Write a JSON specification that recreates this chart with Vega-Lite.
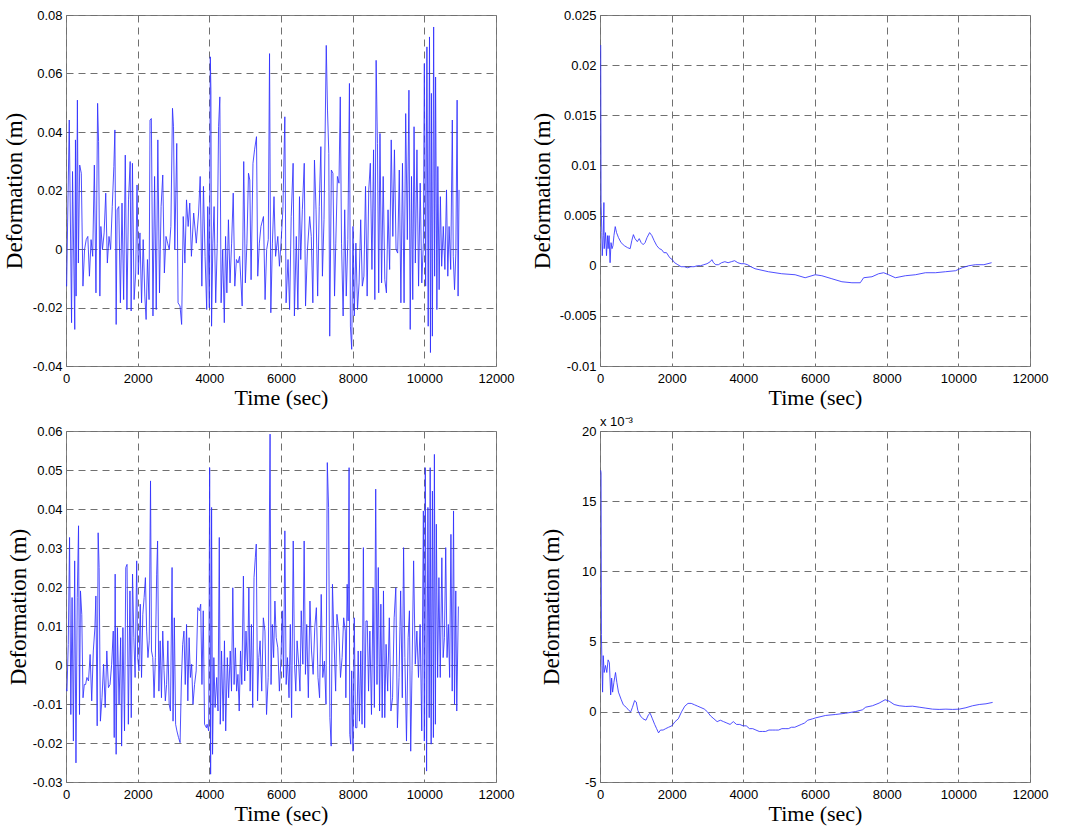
{
"$schema": "https://vega.github.io/schema/vega-lite/v6.json",
"background": "white",
"padding": {"left": 2, "top": 8, "right": 5, "bottom": 5},
"columns": 2,
"spacing": {"row": 65, "column": 104},
"bounds": "flush",
"config": {
 "view": {"stroke": "#808080", "strokeWidth": 1},
 "axis": {"domain": false, "ticks": false, "grid": true, "gridColor": "#707070", "gridDash": [7,5], "gridWidth": 1, "labelFont": "Liberation Sans", "labelFontSize": 13, "labelColor": "#000", "titleFont": "Liberation Serif", "titleFontWeight": "normal", "titleColor": "#000"},
 "axisX": {"labelPadding": 6, "titleFontSize": 22, "titlePadding": 2, "labelFlush": false},
 "axisY": {"labelPadding": 4, "titleFontSize": 23, "labelFlush": false},
 "line": {"color": "#3030ff", "strokeWidth": 1, "opacity": 0.85}
},
"datasets": {
"a": [{"t":0,"v":-0.012},{"t":18,"v":-0.0127},{"t":45,"v":0.0089},{"t":91,"v":0.0441},{"t":155,"v":-0.0252},{"t":182,"v":0.0265},{"t":245,"v":-0.0275},{"t":264,"v":0.0373},{"t":282,"v":-0.0161},{"t":318,"v":0.0509},{"t":345,"v":-0.0048},{"t":382,"v":0.0287},{"t":427,"v":0.0259},{"t":473,"v":-0.0127},{"t":518,"v":-0.0002},{"t":564,"v":0.0032},{"t":609,"v":0.0043},{"t":654,"v":-0.0093},{"t":700,"v":0.0032},{"t":745,"v":-0.0025},{"t":791,"v":0.0287},{"t":836,"v":-0.015},{"t":882,"v":0.0498},{"t":909,"v":0.0367},{"t":945,"v":-0.0161},{"t":973,"v":0.0077},{"t":1018,"v":-0.0002},{"t":1064,"v":0.0055},{"t":1109,"v":0.0191},{"t":1154,"v":-0.0048},{"t":1200,"v":0.0043},{"t":1245,"v":-0.0002},{"t":1291,"v":0.0145},{"t":1336,"v":0.0282},{"t":1364,"v":0.0407},{"t":1400,"v":-0.0258},{"t":1427,"v":0.0134},{"t":1473,"v":0.0145},{"t":1518,"v":-0.0184},{"t":1563,"v":0.0157},{"t":1609,"v":-0.0173},{"t":1654,"v":0.0321},{"t":1700,"v":-0.0207},{"t":1745,"v":0.0168},{"t":1791,"v":0.0299},{"t":1818,"v":-0.0212},{"t":1854,"v":0.0293},{"t":1900,"v":-0.0173},{"t":1945,"v":-0.0082},{"t":1982,"v":0.0219},{"t":2018,"v":-0.0087},{"t":2063,"v":0.0055},{"t":2109,"v":-0.0184},{"t":2154,"v":0.0032},{"t":2200,"v":-0.0161},{"t":2236,"v":-0.0241},{"t":2273,"v":-0.0036},{"t":2318,"v":-0.0173},{"t":2345,"v":0.0441},{"t":2382,"v":0.0446},{"t":2427,"v":-0.0229},{"t":2472,"v":0.0248},{"t":2518,"v":-0.0207},{"t":2563,"v":0.0373},{"t":2609,"v":-0.015},{"t":2654,"v":0.0145},{"t":2700,"v":0.0253},{"t":2745,"v":-0.0082},{"t":2791,"v":0.0043},{"t":2836,"v":0.002},{"t":2882,"v":-0.0002},{"t":2927,"v":0.0077},{"t":2972,"v":0.0481},{"t":3000,"v":0.0418},{"t":3036,"v":-0.0002},{"t":3091,"v":0.0361},{"t":3127,"v":-0.0184},{"t":3182,"v":-0.0195},{"t":3227,"v":-0.0258},{"t":3272,"v":0.0111},{"t":3318,"v":-0.0048},{"t":3363,"v":0.0168},{"t":3409,"v":0.0077},{"t":3454,"v":0.0157},{"t":3500,"v":-0.0025},{"t":3563,"v":0.0123},{"t":3636,"v":0.002},{"t":3700,"v":0.0123},{"t":3745,"v":0.0248},{"t":3791,"v":-0.0127},{"t":3836,"v":0.0214},{"t":3881,"v":-0.0025},{"t":3927,"v":-0.0207},{"t":3956,"v":0.0145},{"t":4000,"v":-0.0201},{"t":4027,"v":0.0657},{"t":4044,"v":0.0543},{"t":4062,"v":-0.0264},{"t":4098,"v":0.002},{"t":4133,"v":0.0145},{"t":4178,"v":-0.0184},{"t":4222,"v":0.002},{"t":4258,"v":0.0418},{"t":4293,"v":0.052},{"t":4329,"v":-0.0184},{"t":4373,"v":-0.0002},{"t":4418,"v":-0.0252},{"t":4453,"v":0.0043},{"t":4489,"v":-0.015},{"t":4533,"v":0.01},{"t":4578,"v":-0.0116},{"t":4622,"v":0.002},{"t":4667,"v":0.0191},{"t":4711,"v":-0.0127},{"t":4756,"v":-0.0036},{"t":4800,"v":-0.0048},{"t":4845,"v":-0.0025},{"t":4916,"v":-0.0195},{"t":4960,"v":0.0299},{"t":5005,"v":-0.0116},{"t":5049,"v":0.002},{"t":5093,"v":0.0259},{"t":5129,"v":0.0236},{"t":5165,"v":-0.0105},{"t":5218,"v":0.0293},{"t":5262,"v":0.0339},{"t":5316,"v":0.0384},{"t":5351,"v":-0.0093},{"t":5396,"v":0.002},{"t":5440,"v":0.0077},{"t":5511,"v":0.0111},{"t":5556,"v":-0.0173},{"t":5600,"v":-0.0002},{"t":5645,"v":0.0032},{"t":5680,"v":0.0668},{"t":5716,"v":-0.0218},{"t":5760,"v":0.002},{"t":5805,"v":0.0179},{"t":5849,"v":-0.0025},{"t":5911,"v":0.0043},{"t":5956,"v":-0.0059},{"t":6000,"v":0.002},{"t":6053,"v":0.0134},{"t":6107,"v":0.0452},{"t":6142,"v":-0.0184},{"t":6196,"v":-0.0036},{"t":6240,"v":-0.0207},{"t":6285,"v":0.0111},{"t":6338,"v":0.0293},{"t":6374,"v":-0.0229},{"t":6427,"v":0.0043},{"t":6471,"v":-0.0207},{"t":6516,"v":0.0179},{"t":6551,"v":-0.0036},{"t":6596,"v":0.0134},{"t":6649,"v":0.0293},{"t":6685,"v":-0.0195},{"t":6738,"v":-0.0002},{"t":6800,"v":0.0111},{"t":6845,"v":0.0043},{"t":6889,"v":-0.0184},{"t":6934,"v":0.0304},{"t":6978,"v":0.0134},{"t":7023,"v":-0.0161},{"t":7067,"v":0.0145},{"t":7112,"v":0.035},{"t":7156,"v":-0.0093},{"t":7200,"v":0.01},{"t":7263,"v":0.0696},{"t":7298,"v":0.0475},{"t":7334,"v":0.0327},{"t":7360,"v":-0.0298},{"t":7405,"v":0.027},{"t":7449,"v":0.0259},{"t":7494,"v":-0.0161},{"t":7529,"v":0.002},{"t":7574,"v":0.0248},{"t":7618,"v":0.0225},{"t":7654,"v":0.052},{"t":7689,"v":0.002},{"t":7734,"v":-0.0229},{"t":7778,"v":0.0134},{"t":7821,"v":-0.0161},{"t":7865,"v":0.0032},{"t":7910,"v":0.0566},{"t":7937,"v":-0.0264},{"t":7973,"v":-0.0343},{"t":8009,"v":0.0077},{"t":8045,"v":-0.0229},{"t":8090,"v":0.002},{"t":8135,"v":-0.0207},{"t":8179,"v":-0.0116},{"t":8224,"v":0.01},{"t":8269,"v":-0.0127},{"t":8314,"v":-0.0093},{"t":8359,"v":0.0214},{"t":8404,"v":-0.0161},{"t":8449,"v":0.0202},{"t":8493,"v":0.0293},{"t":8538,"v":-0.007},{"t":8583,"v":0.0339},{"t":8619,"v":-0.0173},{"t":8655,"v":0.0645},{"t":8691,"v":0.0361},{"t":8727,"v":-0.015},{"t":8762,"v":0.0395},{"t":8807,"v":-0.0116},{"t":8852,"v":0.0248},{"t":8897,"v":-0.0105},{"t":8942,"v":-0.015},{"t":8987,"v":0.0134},{"t":9032,"v":-0.007},{"t":9076,"v":0.0373},{"t":9121,"v":0.0043},{"t":9166,"v":0.0339},{"t":9211,"v":-0.0002},{"t":9256,"v":-0.0014},{"t":9301,"v":0.027},{"t":9346,"v":-0.0184},{"t":9390,"v":0.0293},{"t":9435,"v":-0.0184},{"t":9480,"v":0.0463},{"t":9525,"v":0.0032},{"t":9570,"v":0.0543},{"t":9606,"v":-0.0275},{"t":9642,"v":0.0248},{"t":9677,"v":-0.0173},{"t":9713,"v":0.0418},{"t":9749,"v":-0.0048},{"t":9794,"v":0.0339},{"t":9839,"v":-0.0127},{"t":9884,"v":0.0225},{"t":9929,"v":-0.0116},{"t":9973,"v":0.002},{"t":10000,"v":0.0634},{"t":10036,"v":-0.0127},{"t":10072,"v":0.0691},{"t":10108,"v":-0.0264},{"t":10144,"v":0.0725},{"t":10171,"v":-0.0354},{"t":10197,"v":0.0532},{"t":10224,"v":-0.0298},{"t":10260,"v":0.0759},{"t":10287,"v":-0.0093},{"t":10314,"v":0.0588},{"t":10350,"v":-0.0207},{"t":10377,"v":0.0282},{"t":10413,"v":-0.0139},{"t":10448,"v":0.0179},{"t":10484,"v":-0.0059},{"t":10529,"v":0.0077},{"t":10574,"v":-0.007},{"t":10619,"v":0.0202},{"t":10655,"v":-0.0093},{"t":10691,"v":0.0077},{"t":10736,"v":-0.007},{"t":10781,"v":0.0441},{"t":10807,"v":-0.0025},{"t":10843,"v":-0.0139},{"t":10879,"v":-0.0014},{"t":10915,"v":0.0509},{"t":10942,"v":-0.0161},{"t":10969,"v":0.0202}],
"b": [{"t":20,"v":0.022},{"t":30,"v":0.0063},{"t":40,"v":0.005},{"t":50,"v":0.0033},{"t":63,"v":0.001},{"t":90,"v":0.003},{"t":109,"v":0.0063},{"t":118,"v":0.0017},{"t":154,"v":0.0033},{"t":181,"v":0.001},{"t":208,"v":0.003},{"t":226,"v":0.0017},{"t":253,"v":0.003},{"t":281,"v":0.0003},{"t":308,"v":0.0023},{"t":335,"v":0.0017},{"t":362,"v":0.002},{"t":389,"v":0.003},{"t":425,"v":0.0039},{"t":462,"v":0.0033},{"t":516,"v":0.0028},{"t":588,"v":0.0023},{"t":679,"v":0.002},{"t":769,"v":0.0018},{"t":842,"v":0.0017},{"t":887,"v":0.0025},{"t":932,"v":0.0031},{"t":977,"v":0.0027},{"t":1041,"v":0.0024},{"t":1095,"v":0.0027},{"t":1149,"v":0.0023},{"t":1204,"v":0.0021},{"t":1258,"v":0.0023},{"t":1312,"v":0.0028},{"t":1385,"v":0.0033},{"t":1448,"v":0.003},{"t":1511,"v":0.0025},{"t":1584,"v":0.002},{"t":1656,"v":0.0017},{"t":1720,"v":0.0016},{"t":1783,"v":0.0013},{"t":1855,"v":0.0013},{"t":1946,"v":0.0008},{"t":2018,"v":0.0006},{"t":2082,"v":0.0003},{"t":2172,"v":0.0001},{"t":2263,"v":-0.0001},{"t":2353,"v":-0.0001},{"t":2444,"v":-0.0002},{"t":2534,"v":-0.0001},{"t":2625,"v":-0.0001},{"t":2715,"v":0},{"t":2806,"v":0},{"t":2896,"v":0.0001},{"t":2987,"v":0.0002},{"t":3077,"v":0.0004},{"t":3122,"v":0.0006},{"t":3168,"v":0.0003},{"t":3231,"v":0.0001},{"t":3303,"v":0.0001},{"t":3394,"v":0.0003},{"t":3484,"v":0.0004},{"t":3575,"v":0.0003},{"t":3665,"v":0.0004},{"t":3756,"v":0.0005},{"t":3846,"v":0.0003},{"t":3937,"v":0.0002},{"t":4027,"v":0.0002},{"t":4118,"v":0.0001},{"t":4208,"v":-0.0001},{"t":4326,"v":-0.0003},{"t":4699,"v":-0.0006},{"t":5072,"v":-0.0008},{"t":5445,"v":-0.0009},{"t":5725,"v":-0.0012},{"t":6005,"v":-0.0009},{"t":6191,"v":-0.001},{"t":6471,"v":-0.0013},{"t":6751,"v":-0.0016},{"t":7030,"v":-0.0017},{"t":7263,"v":-0.0017},{"t":7357,"v":-0.0012},{"t":7590,"v":-0.0011},{"t":7776,"v":-0.0008},{"t":7916,"v":-0.0007},{"t":8056,"v":-0.0009},{"t":8242,"v":-0.0012},{"t":8522,"v":-0.001},{"t":8802,"v":-0.0009},{"t":9082,"v":-0.0007},{"t":9361,"v":-0.0007},{"t":9641,"v":-0.0006},{"t":9921,"v":-0.0005},{"t":10107,"v":-0.0002},{"t":10294,"v":0},{"t":10480,"v":0.0001},{"t":10713,"v":0.0001},{"t":10928,"v":0.0003}],
"c": [{"t":0,"v":-0.006},{"t":27,"v":-0.0067},{"t":63,"v":0.0053},{"t":99,"v":0.0327},{"t":135,"v":-0.0127},{"t":170,"v":0.0173},{"t":206,"v":-0.0195},{"t":242,"v":0.0267},{"t":278,"v":-0.0251},{"t":314,"v":0.0173},{"t":350,"v":0.0357},{"t":377,"v":-0.0127},{"t":404,"v":0.019},{"t":440,"v":0.013},{"t":475,"v":-0.0084},{"t":511,"v":-0.005},{"t":547,"v":-0.005},{"t":583,"v":-0.0032},{"t":628,"v":-0.0041},{"t":673,"v":0.0027},{"t":718,"v":-0.0092},{"t":762,"v":0.0036},{"t":807,"v":0.0096},{"t":834,"v":0.0177},{"t":870,"v":-0.0156},{"t":897,"v":0.0339},{"t":924,"v":0.025},{"t":960,"v":-0.0144},{"t":1005,"v":-0.0084},{"t":1049,"v":0.0002},{"t":1094,"v":-0.0109},{"t":1139,"v":0.0036},{"t":1184,"v":-0.0058},{"t":1229,"v":-0.005},{"t":1274,"v":0.0002},{"t":1319,"v":0.0087},{"t":1346,"v":-0.0186},{"t":1372,"v":0.0233},{"t":1399,"v":-0.0229},{"t":1435,"v":0.0096},{"t":1480,"v":-0.0101},{"t":1525,"v":0.007},{"t":1552,"v":-0.0208},{"t":1588,"v":0.0096},{"t":1633,"v":-0.0169},{"t":1668,"v":0.025},{"t":1704,"v":0.0258},{"t":1740,"v":-0.0152},{"t":1785,"v":0.019},{"t":1821,"v":-0.0135},{"t":1857,"v":0.0233},{"t":1893,"v":0.007},{"t":1929,"v":-0.0032},{"t":1973,"v":0.0267},{"t":2000,"v":0.0019},{"t":2036,"v":-0.0015},{"t":2072,"v":0.0156},{"t":2108,"v":-0.0032},{"t":2144,"v":0.013},{"t":2180,"v":0.0173},{"t":2216,"v":0.0224},{"t":2251,"v":0.0087},{"t":2287,"v":0.0019},{"t":2323,"v":0.0062},{"t":2359,"v":0.0472},{"t":2386,"v":0.0036},{"t":2422,"v":0.0019},{"t":2458,"v":-0.0084},{"t":2494,"v":0.0019},{"t":2530,"v":0.0233},{"t":2556,"v":0.0318},{"t":2592,"v":-0.0067},{"t":2628,"v":0.0062},{"t":2664,"v":-0.0084},{"t":2700,"v":0.0087},{"t":2736,"v":-0.0015},{"t":2772,"v":-0.0092},{"t":2808,"v":-0.005},{"t":2843,"v":0.0062},{"t":2879,"v":-0.0101},{"t":2915,"v":-0.0118},{"t":2960,"v":0.025},{"t":2987,"v":-0.0144},{"t":3023,"v":0.0121},{"t":3059,"v":-0.0152},{"t":3095,"v":-0.0169},{"t":3140,"v":-0.0186},{"t":3184,"v":-0.0199},{"t":3220,"v":-0.0041},{"t":3256,"v":0.0053},{"t":3292,"v":0.0087},{"t":3328,"v":-0.005},{"t":3364,"v":0.0104},{"t":3400,"v":-0.0092},{"t":3436,"v":0.007},{"t":3471,"v":-0.0032},{"t":3507,"v":0.0002},{"t":3543,"v":-0.0101},{"t":3588,"v":-0.005},{"t":3633,"v":-0.0015},{"t":3678,"v":0.0147},{"t":3723,"v":0.0139},{"t":3759,"v":0.0156},{"t":3794,"v":-0.005},{"t":3830,"v":0.0139},{"t":3866,"v":-0.0152},{"t":3920,"v":-0.0161},{"t":3937,"v":-0.0152},{"t":3982,"v":-0.0169},{"t":4009,"v":0.0506},{"t":4036,"v":-0.028},{"t":4063,"v":0.0404},{"t":4090,"v":-0.0229},{"t":4126,"v":0.0019},{"t":4161,"v":-0.0109},{"t":4206,"v":-0.0032},{"t":4242,"v":-0.0118},{"t":4278,"v":0.0327},{"t":4305,"v":-0.0152},{"t":4341,"v":0.0036},{"t":4386,"v":-0.0144},{"t":4422,"v":0.0062},{"t":4457,"v":-0.0169},{"t":4502,"v":0.0019},{"t":4538,"v":-0.0084},{"t":4583,"v":0.0036},{"t":4619,"v":-0.0067},{"t":4655,"v":0.0198},{"t":4691,"v":-0.005},{"t":4727,"v":0.0044},{"t":4762,"v":-0.0067},{"t":4798,"v":-0.0024},{"t":4834,"v":-0.0118},{"t":4870,"v":0.0036},{"t":4906,"v":-0.005},{"t":4951,"v":0.0228},{"t":4987,"v":-0.0041},{"t":5023,"v":0.0087},{"t":5067,"v":-0.0015},{"t":5103,"v":0.0198},{"t":5139,"v":-0.0067},{"t":5175,"v":0.0104},{"t":5211,"v":-0.0109},{"t":5247,"v":0.0224},{"t":5283,"v":0.0275},{"t":5310,"v":0.031},{"t":5346,"v":-0.0092},{"t":5381,"v":0.0019},{"t":5417,"v":0.0062},{"t":5462,"v":-0.0067},{"t":5507,"v":0.0121},{"t":5552,"v":0.0087},{"t":5597,"v":-0.0127},{"t":5642,"v":-0.0032},{"t":5668,"v":0.0267},{"t":5695,"v":0.0592},{"t":5722,"v":-0.005},{"t":5758,"v":0.0104},{"t":5794,"v":0.0019},{"t":5830,"v":0.0164},{"t":5866,"v":0.007},{"t":5911,"v":0.0044},{"t":5955,"v":-0.0067},{"t":6000,"v":0.0019},{"t":6036,"v":0.0139},{"t":6072,"v":-0.0032},{"t":6108,"v":0.0344},{"t":6144,"v":-0.005},{"t":6180,"v":0.0019},{"t":6224,"v":-0.0084},{"t":6260,"v":0.0104},{"t":6296,"v":-0.0135},{"t":6341,"v":0.0318},{"t":6377,"v":0.0002},{"t":6413,"v":-0.0067},{"t":6449,"v":0.0062},{"t":6494,"v":0.0002},{"t":6529,"v":-0.0067},{"t":6565,"v":0.0139},{"t":6610,"v":0.0002},{"t":6646,"v":0.0318},{"t":6682,"v":-0.0024},{"t":6718,"v":0.0104},{"t":6763,"v":-0.0084},{"t":6808,"v":0.0164},{"t":6852,"v":0.0036},{"t":6897,"v":-0.0024},{"t":6942,"v":0.0096},{"t":6987,"v":0.0147},{"t":7032,"v":-0.0032},{"t":7077,"v":-0.0084},{"t":7122,"v":0.0181},{"t":7166,"v":-0.0032},{"t":7211,"v":0.001},{"t":7256,"v":-0.0101},{"t":7292,"v":0.0519},{"t":7328,"v":0.0404},{"t":7364,"v":-0.0135},{"t":7400,"v":-0.0208},{"t":7436,"v":0.0207},{"t":7480,"v":0.0062},{"t":7525,"v":-0.0067},{"t":7561,"v":0.013},{"t":7615,"v":0.0087},{"t":7660,"v":-0.0032},{"t":7705,"v":0.0019},{"t":7749,"v":0.0121},{"t":7794,"v":0.0087},{"t":7810,"v":-0.0084},{"t":7846,"v":0.0207},{"t":7873,"v":0.0113},{"t":7900,"v":0.0506},{"t":7919,"v":-0.0178},{"t":7946,"v":-0.0203},{"t":7973,"v":-0.0015},{"t":8009,"v":-0.0221},{"t":8045,"v":0.0121},{"t":8081,"v":-0.0161},{"t":8118,"v":-0.0161},{"t":8154,"v":0.0036},{"t":8190,"v":-0.0144},{"t":8226,"v":0.0036},{"t":8262,"v":-0.0152},{"t":8299,"v":0.0301},{"t":8335,"v":-0.0161},{"t":8371,"v":0.0113},{"t":8407,"v":0.0113},{"t":8443,"v":-0.0067},{"t":8480,"v":0.0087},{"t":8525,"v":-0.0127},{"t":8570,"v":0.0198},{"t":8606,"v":-0.0109},{"t":8643,"v":0.0451},{"t":8679,"v":-0.005},{"t":8715,"v":0.025},{"t":8751,"v":-0.0118},{"t":8787,"v":0.0156},{"t":8824,"v":-0.0135},{"t":8860,"v":0.019},{"t":8896,"v":-0.0135},{"t":8932,"v":0.0053},{"t":8977,"v":-0.0067},{"t":9023,"v":0.0121},{"t":9068,"v":-0.0118},{"t":9113,"v":-0.0084},{"t":9158,"v":0.0121},{"t":9204,"v":0.0198},{"t":9249,"v":-0.0161},{"t":9294,"v":-0.0032},{"t":9339,"v":0.019},{"t":9385,"v":-0.0084},{"t":9421,"v":0.0301},{"t":9457,"v":0.0019},{"t":9502,"v":-0.0195},{"t":9548,"v":0.007},{"t":9584,"v":0.0139},{"t":9620,"v":-0.0221},{"t":9656,"v":-0.0015},{"t":9701,"v":0.0267},{"t":9747,"v":0.0002},{"t":9792,"v":0.0087},{"t":9837,"v":-0.0032},{"t":9882,"v":0.0104},{"t":9928,"v":-0.0169},{"t":9973,"v":0.0395},{"t":10000,"v":-0.0195},{"t":10027,"v":0.0506},{"t":10063,"v":-0.0272},{"t":10100,"v":0.0404},{"t":10136,"v":-0.0135},{"t":10163,"v":0.0506},{"t":10190,"v":-0.0203},{"t":10226,"v":0.0446},{"t":10253,"v":-0.0186},{"t":10281,"v":0.054},{"t":10308,"v":-0.0152},{"t":10335,"v":0.0361},{"t":10371,"v":-0.0032},{"t":10407,"v":0.0224},{"t":10444,"v":-0.0032},{"t":10489,"v":0.0275},{"t":10525,"v":0.0019},{"t":10561,"v":0.007},{"t":10597,"v":0.0301},{"t":10634,"v":0.0019},{"t":10670,"v":0.0104},{"t":10706,"v":-0.0032},{"t":10742,"v":0.0335},{"t":10778,"v":-0.0067},{"t":10815,"v":0.0395},{"t":10842,"v":-0.0101},{"t":10878,"v":0.019},{"t":10905,"v":-0.0118},{"t":10950,"v":0.0150}],
"d": [{"t":20,"v":0.0172},{"t":30,"v":0.0170},{"t":40,"v":0.0055},{"t":54,"v":0.0033},{"t":72,"v":0.0014},{"t":90,"v":0.004},{"t":117,"v":0.0028},{"t":153,"v":0.0033},{"t":190,"v":0.0028},{"t":226,"v":0.0037},{"t":262,"v":0.0035},{"t":298,"v":0.0012},{"t":325,"v":0.0024},{"t":352,"v":0.0014},{"t":388,"v":0.0021},{"t":433,"v":0.0028},{"t":470,"v":0.0021},{"t":515,"v":0.0014},{"t":587,"v":0.0009},{"t":650,"v":0.0005},{"t":740,"v":0.0003},{"t":804,"v":0.0001},{"t":858,"v":0},{"t":903,"v":0.0003},{"t":966,"v":0.0008},{"t":1011,"v":0.0007},{"t":1056,"v":0.0001},{"t":1129,"v":-0.0003},{"t":1201,"v":-0.0005},{"t":1282,"v":-0.0006},{"t":1355,"v":-0.0002},{"t":1400,"v":-0.0001},{"t":1463,"v":-0.0005},{"t":1526,"v":-0.0009},{"t":1580,"v":-0.0012},{"t":1634,"v":-0.0015},{"t":1689,"v":-0.0013},{"t":1761,"v":-0.0013},{"t":1833,"v":-0.0012},{"t":1914,"v":-0.0011},{"t":2005,"v":-0.001},{"t":2095,"v":-0.0007},{"t":2185,"v":-0.0005},{"t":2276,"v":0},{"t":2366,"v":0.0004},{"t":2456,"v":0.0006},{"t":2546,"v":0.0006},{"t":2637,"v":0.0005},{"t":2727,"v":0.0004},{"t":2817,"v":0.0003},{"t":2908,"v":0.0002},{"t":2998,"v":0},{"t":3088,"v":-0.0003},{"t":3179,"v":-0.0005},{"t":3269,"v":-0.0007},{"t":3359,"v":-0.0006},{"t":3449,"v":-0.0007},{"t":3540,"v":-0.0008},{"t":3630,"v":-0.0009},{"t":3720,"v":-0.0007},{"t":3811,"v":-0.0009},{"t":3901,"v":-0.0009},{"t":3991,"v":-0.001},{"t":4082,"v":-0.001},{"t":4172,"v":-0.0012},{"t":4262,"v":-0.0012},{"t":4352,"v":-0.0013},{"t":4443,"v":-0.0014},{"t":4533,"v":-0.0014},{"t":4623,"v":-0.0014},{"t":4714,"v":-0.0013},{"t":4804,"v":-0.0013},{"t":4894,"v":-0.0013},{"t":4984,"v":-0.0013},{"t":5075,"v":-0.0012},{"t":5165,"v":-0.0012},{"t":5255,"v":-0.0012},{"t":5346,"v":-0.0011},{"t":5436,"v":-0.0011},{"t":5526,"v":-0.001},{"t":5617,"v":-0.0009},{"t":5707,"v":-0.0008},{"t":5797,"v":-0.0006},{"t":5933,"v":-0.0005},{"t":6019,"v":-0.00043},{"t":6298,"v":-0.00026},{"t":6578,"v":-0.00019},{"t":6857,"v":-0.0001},{"t":7137,"v":0.00002},{"t":7323,"v":0.00014},{"t":7416,"v":0.00033},{"t":7603,"v":0.00043},{"t":7789,"v":0.00062},{"t":7957,"v":0.00086},{"t":8069,"v":0.00076},{"t":8208,"v":0.00052},{"t":8348,"v":0.00043},{"t":8534,"v":0.00038},{"t":8721,"v":0.0004},{"t":8907,"v":0.00033},{"t":9094,"v":0.00026},{"t":9280,"v":0.00019},{"t":9466,"v":0.00017},{"t":9653,"v":0.00019},{"t":9839,"v":0.00017},{"t":10025,"v":0.00019},{"t":10211,"v":0.00029},{"t":10398,"v":0.00043},{"t":10584,"v":0.00052},{"t":10771,"v":0.00057},{"t":10957,"v":0.00067}]
},
"concat": [
 {"width": 430, "height": 351, "data": {"name": "a"}, "mark": {"type": "line", "clip": true},
  "encoding": {
   "x": {"field": "t", "type": "quantitative", "scale": {"domain": [0, 12000], "nice": false}, "axis": {"title": "Time (sec)", "values": [0,2000,4000,6000,8000,10000,12000], "labelExpr": "'' + datum.value"}},
   "y": {"field": "v", "type": "quantitative", "scale": {"domain": [-0.04, 0.08], "nice": false, "zero": false}, "axis": {"title": "Deformation (m)", "titlePadding": 6, "values": [-0.04,-0.02,0,0.02,0.04,0.06,0.08], "labelExpr": "'' + datum.value"}}
  }},
 {"width": 430, "height": 351, "data": {"name": "b"}, "mark": {"type": "line", "clip": true},
  "encoding": {
   "x": {"field": "t", "type": "quantitative", "scale": {"domain": [0, 12000], "nice": false}, "axis": {"title": "Time (sec)", "values": [0,2000,4000,6000,8000,10000,12000], "labelExpr": "'' + datum.value"}},
   "y": {"field": "v", "type": "quantitative", "scale": {"domain": [-0.01, 0.025], "nice": false, "zero": false}, "axis": {"title": "Deformation (m)", "titlePadding": 5, "values": [-0.01,-0.005,0,0.005,0.01,0.015,0.02,0.025], "labelExpr": "'' + datum.value"}}
  }},
 {"width": 430, "height": 351, "data": {"name": "c"}, "mark": {"type": "line", "clip": true},
  "encoding": {
   "x": {"field": "t", "type": "quantitative", "scale": {"domain": [0, 12000], "nice": false}, "axis": {"title": "Time (sec)", "values": [0,2000,4000,6000,8000,10000,12000], "labelExpr": "'' + datum.value"}},
   "y": {"field": "v", "type": "quantitative", "scale": {"domain": [-0.03, 0.06], "nice": false, "zero": false}, "axis": {"title": "Deformation (m)", "titlePadding": 2, "values": [-0.03,-0.02,-0.01,0,0.01,0.02,0.03,0.04,0.05,0.06], "labelExpr": "'' + datum.value"}}
  }},
 {"width": 430, "height": 351, "data": {"name": "d"},
  "title": {"text": "x 10⁻³", "anchor": "start", "frame": "group", "font": "Liberation Sans", "fontSize": 13, "fontWeight": "normal", "color": "#000", "offset": -4},
  "mark": {"type": "line", "clip": true},
  "encoding": {
   "x": {"field": "t", "type": "quantitative", "scale": {"domain": [0, 12000], "nice": false}, "axis": {"title": "Time (sec)", "values": [0,2000,4000,6000,8000,10000,12000], "labelExpr": "'' + datum.value"}},
   "y": {"field": "v", "type": "quantitative", "scale": {"domain": [-0.005, 0.02], "nice": false, "zero": false}, "axis": {"title": "Deformation (m)", "titlePadding": 18, "values": [-0.005,0,0.005,0.01,0.015,0.02], "labelExpr": "'' + round(datum.value*1000)"}}
  }}
]
}
